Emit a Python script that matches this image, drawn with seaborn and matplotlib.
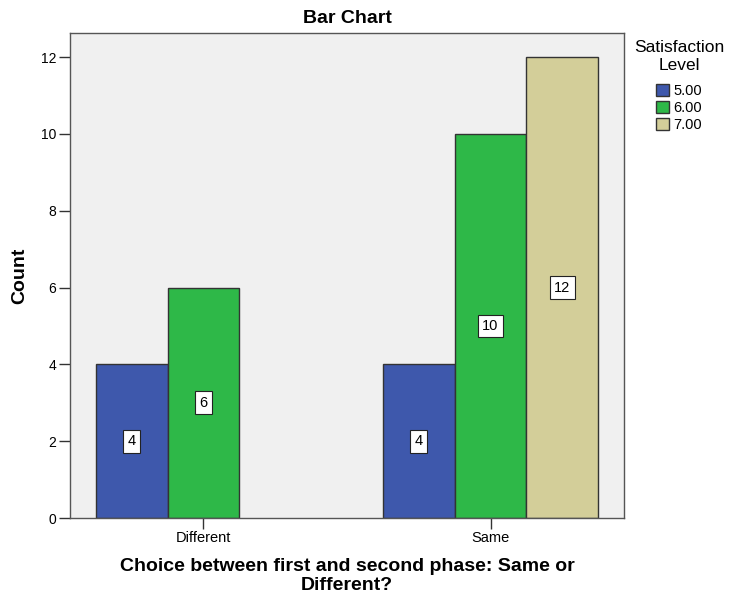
import matplotlib
matplotlib.use("Agg")
import matplotlib.pyplot as plt
import seaborn as sns
import pandas as pd

# bar chart of satisfaction level by choice (same / different)
choices = ["Different", "Different", "Same", "Same", "Same"]
levels = ["5.00", "6.00", "5.00", "6.00", "7.00"]
counts = [4, 6, 4, 10, 12]
level_order = ["5.00", "6.00", "7.00"]
colors = ["#3E58AC", "#2EB848", "#D3CE99"]

df = pd.DataFrame({"choice": choices, "level": levels, "count": counts})

sns.set_style("white")
plt.rcParams["font.family"] = ["Liberation Sans", "DejaVu Sans"]
plt.rcParams["text.color"] = "black"
plt.rcParams["axes.labelcolor"] = "black"
plt.rcParams["xtick.color"] = "black"
plt.rcParams["ytick.color"] = "black"

fig = plt.figure(figsize=(7.29, 5.95), dpi=100)
ax = fig.add_axes([70/729, 1-518/595, (624-70)/729, (518-33)/595])
ax.set_facecolor("#F0F0F0")

sns.barplot(data=df, x="choice", y="count", hue="level", hue_order=level_order,
            order=["Different", "Same"], palette=colors, saturation=1,
            width=0.75, edgecolor="#333333", linewidth=1, ax=ax)

for c in ax.containers:
    ax.bar_label(c, label_type="center", fontsize=10.5,
                 bbox=dict(boxstyle="square,pad=0.3", fc="white", ec="#222222", lw=0.8))

ax.set_xlim(-0.465, 1.465)
ax.set_ylim(0, 12.63)
ax.set_yticks(range(0, 13, 2))
for s in ax.spines.values():
    s.set_color("#555555")
    s.set_linewidth(1)
ax.tick_params(axis="both", direction="out", length=8, width=1, color="#333333",
               left=True, bottom=True)
ax.tick_params(axis="y", labelsize=10, pad=2)
ax.tick_params(axis="x", labelsize=10.5, pad=1)
ax.set_xticks([0, 1])
ax.set_xticklabels(["Different", "Same"])

ax.set_title("Bar Chart", fontsize=14, fontweight="bold", pad=7)
ax.set_ylabel("Count", fontsize=14, fontweight="bold", labelpad=9)
ax.set_xlabel("Choice between first and second phase: Same or\nDifferent?",
              fontsize=14, fontweight="bold", labelpad=10, linespacing=1.15)

handles, labels = ax.get_legend_handles_labels()
ax.get_legend().remove()
leg = fig.legend(handles, labels, title="Satisfaction\nLevel", loc="upper center",
                 bbox_to_anchor=(679/729, 1-40/595), frameon=False, fontsize=10.5,
                 title_fontsize=12.5, handlelength=0.9, handleheight=0.9,
                 handletextpad=0.3, labelspacing=0.2, alignment="center",
                 borderaxespad=0, borderpad=0)
leg.get_title().set_multialignment("center")
leg.get_title().set_linespacing(1.25)
leg._legend_box.sep = 8

plt.savefig("out.png", dpi=100)
